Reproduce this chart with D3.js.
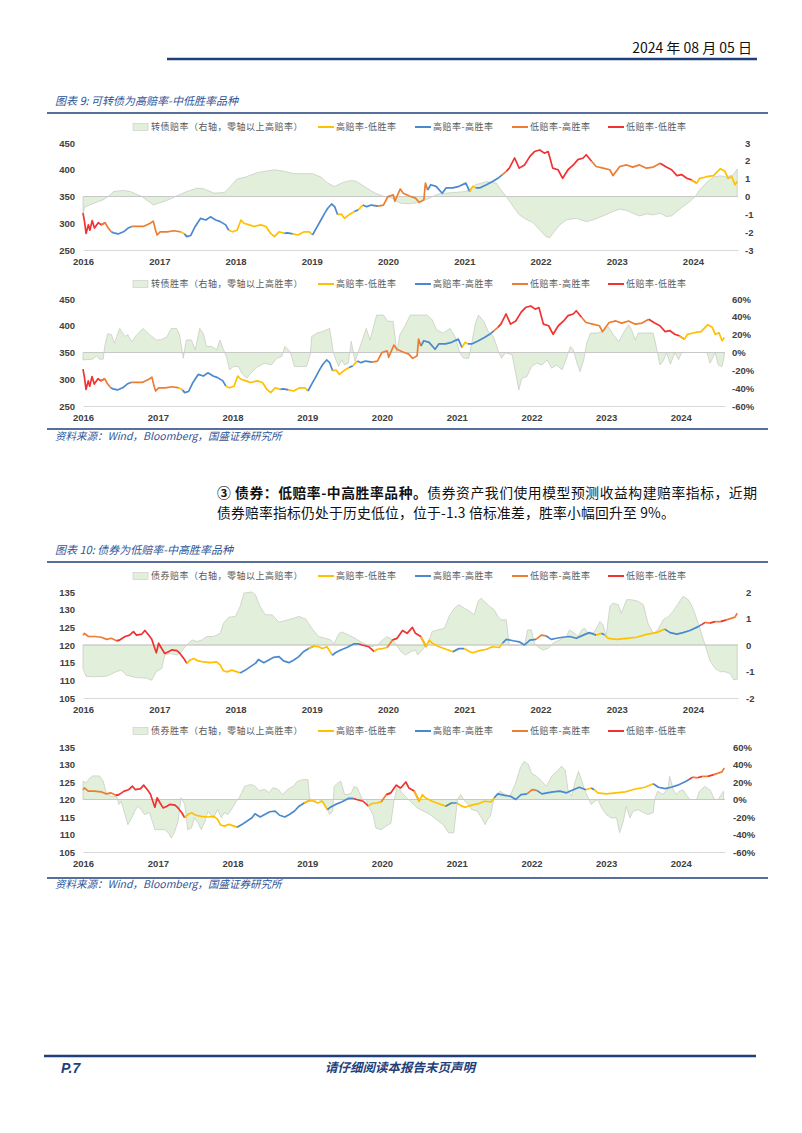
<!DOCTYPE html>
<meta charset="utf-8">
<style>
 body { margin: 0; background: #fff; }
 .tick text { font-family: "Liberation Sans", Arial, sans-serif; font-size: 9.5px; font-weight: bold; fill: #404040; }
 .cjk { font-family: "Noto Sans CJK SC", sans-serif; }
</style>
<body>
<script src="https://d3js.org/d3.v7.min.js"></script>
<script>

// ---- data (decimal year, value) ----
var yearTicks = [2016, 2017, 2018, 2019, 2020, 2021, 2022, 2023, 2024];
var xEnd = 2024.59;

var regimeNames = { Y: "高赔率-低胜率", B: "高赔率-高胜率", O: "低赔率-高胜率", R: "低赔率-低胜率" };
var regimeColors = { Y: "#FFC000", B: "#4A89CF", O: "#ED7D31", R: "#F03232" };
var regimeOrder = ["Y", "B", "O", "R"];

// 图表9 可转债
var cbIndex = [
  [2016.00,319],[2016.02,303],[2016.04,281],[2016.07,297],[2016.09,287],[2016.12,305],[2016.15,291],
  [2016.20,301],[2016.24,297],[2016.29,301],[2016.33,291],[2016.37,284],[2016.40,282],[2016.46,280],
  [2016.53,284],[2016.59,291],[2016.64,294],[2016.70,294],[2016.79,294],[2016.88,300],[2016.92,304],
  [2016.95,287],[2016.97,278],[2017.01,284],[2017.10,284],[2017.19,286],[2017.28,284],[2017.33,280],
  [2017.36,275],[2017.41,277],[2017.47,294],[2017.54,309],[2017.61,306],[2017.67,312],[2017.74,306],
  [2017.80,303],[2017.87,297],[2017.91,287],[2017.96,284],[2018.02,287],[2018.07,306],[2018.11,300],
  [2018.18,297],[2018.24,294],[2018.33,297],[2018.40,294],[2018.46,281],[2018.51,275],[2018.57,284],
  [2018.64,281],[2018.68,282],[2018.75,280],[2018.82,278],[2018.90,284],[2018.97,284],[2019.01,278],
  [2019.06,291],[2019.12,306],[2019.17,319],[2019.21,328],[2019.26,336],[2019.30,331],[2019.34,316],
  [2019.39,317],[2019.43,309],[2019.50,317],[2019.56,322],[2019.61,325],[2019.67,334],[2019.72,331],
  [2019.78,334],[2019.87,332],[2019.94,334],[2020.00,350],[2020.07,353],[2020.09,341],[2020.16,364],
  [2020.20,356],[2020.28,351],[2020.36,347],[2020.41,339],[2020.47,344],[2020.49,375],[2020.52,362],
  [2020.56,372],[2020.63,369],[2020.71,356],[2020.76,366],[2020.85,366],[2020.93,369],[2021.02,375],
  [2021.07,359],[2021.11,369],[2021.15,366],[2021.20,366],[2021.29,372],[2021.37,378],[2021.44,384],
  [2021.50,391],[2021.55,397],[2021.59,403],[2021.66,422],[2021.72,403],[2021.79,409],[2021.86,425],
  [2021.92,434],[2021.99,437],[2022.05,431],[2022.10,434],[2022.16,403],[2022.23,400],[2022.29,384],
  [2022.36,400],[2022.43,409],[2022.49,419],[2022.56,422],[2022.60,428],[2022.67,416],[2022.73,406],
  [2022.82,403],[2022.91,400],[2022.95,389],[2023.04,406],[2023.13,409],[2023.21,405],[2023.30,409],
  [2023.39,403],[2023.48,405],[2023.57,412],[2023.65,405],[2023.72,400],[2023.79,389],[2023.85,391],
  [2023.92,384],[2023.98,381],[2024.05,375],[2024.09,384],[2024.18,387],[2024.27,389],[2024.36,402],
  [2024.42,397],[2024.46,384],[2024.51,387],[2024.55,372],[2024.58,378]
];
var cbRegStart = [2016.00,2016.29,2016.38,2016.68,2017.31,2017.36,2017.95,2018.67,2018.80,2019.02,
  2019.36,2019.58,2019.64,2019.70,2019.93,2020.53,2021.09,2021.18,2021.52,2021.57,2022.70,2023.62,2024.05];
var cbRegime = ["R","O","B","O","Y","B","Y","B","Y","B","Y","B","Y","B","O","B","Y","B","O","R","O","R","Y"];

var cbOdds = [
  [2016.00,-1.0],[2016.02,-0.6],[2016.09,-0.47],[2016.20,-0.28],[2016.26,-0.19],[2016.33,0],[2016.40,0.28],
  [2016.53,0.34],[2016.62,0.28],[2016.77,0],[2016.92,-0.47],[2017.06,-0.28],[2017.17,-0.09],[2017.21,0],
  [2017.36,0.28],[2017.50,0.47],[2017.58,0.43],[2017.72,0.19],[2017.85,0.22],[2017.89,0.38],[2018.02,0.98],
  [2018.13,1.09],[2018.29,1.35],[2018.51,1.5],[2018.64,1.41],[2018.77,1.28],[2019.01,1.28],[2019.12,1.09],
  [2019.21,0.75],[2019.30,0.56],[2019.41,0.79],[2019.52,0.9],[2019.59,0.84],[2019.70,0.53],[2019.83,0.19],
  [2019.92,0.04],[2019.96,0],[2020.05,-0.09],[2020.16,-0.375],[2020.27,-0.41],[2020.41,-0.33],[2020.54,-0.1],
  [2020.58,0],[2020.67,0.15],[2020.85,0.22],[2021.02,0.28],[2021.15,0.66],[2021.29,0.84],[2021.42,0.75],
  [2021.48,0.375],[2021.55,0],[2021.64,-0.56],[2021.72,-1.03],[2021.81,-1.28],[2021.90,-1.46],[2021.99,-1.88],
  [2022.07,-2.25],[2022.12,-2.31],[2022.18,-1.97],[2022.25,-1.6],[2022.34,-1.31],[2022.47,-1.22],[2022.60,-1.41],
  [2022.69,-1.31],[2022.82,-1.09],[2022.95,-0.84],[2023.04,-0.71],[2023.13,-0.78],[2023.21,-0.94],[2023.30,-1.09],
  [2023.39,-0.98],[2023.48,-1.03],[2023.57,-0.94],[2023.65,-1.12],[2023.72,-1.09],[2023.79,-0.84],[2023.87,-0.56],
  [2023.96,-0.28],[2024.03,0],[2024.09,0.375],[2024.18,0.79],[2024.27,1.09],[2024.36,1.16],[2024.44,1.09],
  [2024.53,1.22],[2024.58,1.54]
];

var cbWin = [
  [2016.00,-0.083],[2016.13,-0.075],[2016.18,-0.038],[2016.22,-0.075],[2016.27,-0.075],[2016.29,0.07],[2016.33,0.21],
  [2016.38,0.20],[2016.42,0.105],[2016.49,0.27],[2016.56,0.18],[2016.60,0.20],[2016.65,0.12],[2016.71,0.19],
  [2016.80,0.27],[2016.89,0.20],[2016.98,0.14],[2017.05,0.145],[2017.12,0.175],[2017.18,0.27],[2017.25,0.27],
  [2017.29,0.20],[2017.34,-0.064],[2017.38,0.14],[2017.45,0.14],[2017.50,0.03],[2017.56,0.27],[2017.61,0.21],
  [2017.65,0.068],[2017.72,0.068],[2017.79,0.03],[2017.83,0.14],[2017.88,0.03],[2017.92,-0.05],[2017.96,-0.195],
  [2018.01,-0.158],[2018.08,-0.158],[2018.12,-0.23],[2018.19,-0.29],[2018.26,-0.216],[2018.34,-0.158],[2018.43,-0.12],
  [2018.52,-0.139],[2018.59,-0.064],[2018.66,-0.045],[2018.70,0.068],[2018.77,0.011],[2018.83,-0.158],[2018.90,-0.158],
  [2018.99,-0.158],[2019.04,-0.026],[2019.06,0.18],[2019.13,0.218],[2019.21,0.236],[2019.30,0.27],[2019.35,-0.004],
  [2019.42,-0.158],[2019.46,-0.083],[2019.50,-0.139],[2019.55,-0.12],[2019.59,0.124],[2019.64,-0.10],[2019.68,-0.004],
  [2019.73,0.124],[2019.79,0.27],[2019.84,0.14],[2019.93,0.42],[2020.02,0.42],[2020.08,0.35],[2020.15,0.35],
  [2020.20,0],[2020.24,0.20],[2020.29,0.27],[2020.38,0.42],[2020.60,0.42],[2020.67,0.37],[2020.73,0.255],
  [2020.82,0.218],[2020.91,0.27],[2020.98,0.17],[2021.04,0],[2021.09,-0.064],[2021.16,-0.064],[2021.20,0.105],
  [2021.25,0.33],[2021.29,0.42],[2021.36,0.35],[2021.42,0.236],[2021.49,0.18],[2021.56,0.007],[2021.60,-0.064],
  [2021.65,-0.004],[2021.74,-0.023],[2021.78,-0.195],[2021.83,-0.42],[2021.87,-0.29],[2021.94,-0.27],[2022.00,-0.158],
  [2022.07,-0.12],[2022.14,-0.139],[2022.21,-0.083],[2022.27,-0.176],[2022.34,-0.139],[2022.41,-0.195],[2022.47,-0.064],
  [2022.52,0.068],[2022.56,0.03],[2022.61,-0.12],[2022.65,-0.214],[2022.70,-0.083],[2022.74,0.105],[2022.79,0.218],
  [2022.88,0.218],[2022.96,0.236],[2023.03,0.29],[2023.10,0.195],[2023.17,0.124],[2023.23,0.218],[2023.30,0.31],
  [2023.34,0.255],[2023.39,0.14],[2023.43,0.218],[2023.63,0.218],[2023.68,0.03],[2023.72,-0.14],[2023.76,-0.10],
  [2023.81,-0.004],[2023.86,-0.13],[2023.92,-0.004],[2023.97,-0.08],[2024.01,0],[2024.35,0],[2024.39,-0.12],
  [2024.46,-0.004],[2024.50,-0.14],[2024.55,-0.158],[2024.58,-0.045]
];

// 图表10 债券
var bondIndex = [
  [2016.00,122.8],[2016.02,123.3],[2016.07,122.4],[2016.15,122.4],[2016.24,122.2],[2016.31,121.6],[2016.37,121.9],
  [2016.44,121.2],[2016.48,121.4],[2016.55,122.4],[2016.61,122.8],[2016.66,123.8],[2016.70,122.8],[2016.77,123.1],
  [2016.81,124.1],[2016.86,122.8],[2016.90,121.6],[2016.94,119.0],[2016.96,117.8],[2016.99,120.5],[2017.03,119.0],
  [2017.07,117.6],[2017.12,118.1],[2017.16,118.6],[2017.23,118.4],[2017.27,117.6],[2017.32,116.2],[2017.36,114.8],
  [2017.40,115.7],[2017.45,116.2],[2017.51,115.5],[2017.58,115.2],[2017.67,115.0],[2017.75,115.2],[2017.80,114.3],
  [2017.84,112.7],[2017.89,112.4],[2017.95,112.9],[2018.02,112.4],[2018.06,112.1],[2018.13,112.9],[2018.19,113.8],
  [2018.26,114.8],[2018.30,115.9],[2018.37,115.0],[2018.43,115.7],[2018.50,116.5],[2018.57,116.7],[2018.63,115.5],
  [2018.70,115.0],[2018.76,115.7],[2018.83,116.7],[2018.89,118.1],[2018.96,119.0],[2019.03,119.7],[2019.09,119.5],
  [2019.14,119.0],[2019.20,119.5],[2019.27,117.1],[2019.31,117.8],[2019.38,118.6],[2019.46,119.3],[2019.55,120.3],
  [2019.62,120.3],[2019.66,120.0],[2019.75,119.5],[2019.82,118.1],[2019.86,118.8],[2019.93,119.0],[2019.99,119.3],
  [2020.06,121.4],[2020.12,121.9],[2020.19,124.1],[2020.25,123.3],[2020.32,125.0],[2020.36,123.3],[2020.43,122.4],
  [2020.50,119.5],[2020.54,121.4],[2020.58,120.5],[2020.67,119.5],[2020.76,118.8],[2020.85,118.1],[2020.93,119.0],
  [2021.00,119.0],[2021.07,118.1],[2021.11,117.8],[2021.20,118.4],[2021.29,118.8],[2021.37,119.5],[2021.46,119.3],
  [2021.50,120.5],[2021.55,121.6],[2021.64,121.2],[2021.72,120.9],[2021.79,120.0],[2021.86,121.4],[2021.94,121.6],
  [2022.01,122.8],[2022.07,122.6],[2022.14,121.6],[2022.21,121.9],[2022.29,122.2],[2022.38,122.4],[2022.47,121.9],
  [2022.56,122.8],[2022.64,123.5],[2022.73,122.8],[2022.80,123.3],[2022.84,122.8],[2022.89,121.9],[2023.00,121.6],
  [2023.13,121.9],[2023.26,122.2],[2023.39,123.0],[2023.52,123.5],[2023.63,124.5],[2023.70,123.5],[2023.79,123.1],
  [2023.87,123.5],[2023.96,124.1],[2024.07,125.2],[2024.11,125.7],[2024.16,126.4],[2024.22,126.2],[2024.29,126.6],
  [2024.36,126.6],[2024.44,127.1],[2024.51,127.6],[2024.55,127.9],[2024.58,129.0]
];
var bondRegStart = [2016.00,2016.48,2017.38,2018.08,2019.03,2019.29,2019.64,2019.84,2020.05,2020.12,2020.50,
  2020.93,2021.05,2021.52,2021.98,2022.12,2022.78,2022.83,2022.87,2023.66,2024.12,2024.19,2024.26,2024.32,2024.42,2024.47];
var bondRegime = ["O","R","Y","B","Y","B","R","Y","O","R","Y","B","Y","B","O","B","Y","B","Y","B","R","O","R","O","R","O"];

var bondOdds = [
  [2016.00,-0.89],[2016.04,-1.18],[2016.13,-1.2],[2016.31,-1.18],[2016.44,-1.0],[2016.50,-0.95],[2016.57,-1.14],
  [2016.70,-1.23],[2016.83,-1.25],[2016.90,-1.33],[2016.96,-1.0],[2017.03,-0.89],[2017.07,-0.38],[2017.14,-0.32],
  [2017.23,-0.38],[2017.29,-0.25],[2017.34,-0.06],[2017.36,0],[2017.43,0.19],[2017.49,0.13],[2017.56,0.19],
  [2017.62,0.32],[2017.71,0.32],[2017.80,0.44],[2017.84,0.82],[2017.91,1.05],[2018.00,1.08],[2018.06,1.46],
  [2018.11,1.96],[2018.21,2.0],[2018.26,1.9],[2018.32,1.46],[2018.39,1.14],[2018.48,1.14],[2018.57,0.86],
  [2018.65,0.92],[2018.74,0.99],[2018.83,1.08],[2018.92,0.98],[2019.00,0.63],[2019.09,0.32],[2019.18,0.25],
  [2019.25,0.19],[2019.29,0.04],[2019.36,0.44],[2019.40,0.49],[2019.49,0.37],[2019.57,0.25],[2019.66,0.09],
  [2019.73,0],[2019.79,-0.06],[2019.86,0],[2019.93,0.19],[2019.99,0.32],[2020.06,0.19],[2020.10,0.04],
  [2020.17,-0.25],[2020.23,-0.38],[2020.30,-0.25],[2020.36,-0.19],[2020.39,-0.38],[2020.45,-0.19],[2020.50,0],
  [2020.54,0.19],[2020.58,0.51],[2020.65,0.57],[2020.74,0.63],[2020.80,1.08],[2020.87,1.39],[2020.93,1.52],
  [2021.00,1.39],[2021.07,1.27],[2021.13,1.14],[2021.18,1.65],[2021.22,1.77],[2021.26,1.65],[2021.33,1.46],
  [2021.39,1.33],[2021.44,1.08],[2021.48,0.95],[2021.55,0.95],[2021.59,0],[2021.79,0],[2021.83,0.57],
  [2021.88,0.57],[2021.92,0.06],[2021.96,-0.06],[2022.03,-0.19],[2022.10,-0.13],[2022.16,0.06],[2022.25,0.19],
  [2022.34,0.32],[2022.38,0.57],[2022.45,0.44],[2022.49,0.32],[2022.54,0.57],[2022.58,0.63],[2022.64,0.38],
  [2022.71,0.51],[2022.78,0.89],[2022.82,0.76],[2022.86,0.32],[2022.91,1.46],[2022.95,1.58],[2023.02,1.52],
  [2023.06,1.2],[2023.13,1.71],[2023.19,1.71],[2023.28,1.65],[2023.35,1.52],[2023.41,0.82],[2023.48,0.44],
  [2023.54,0.57],[2023.61,0.95],[2023.68,1.08],[2023.74,1.27],[2023.81,1.58],[2023.87,1.84],[2023.94,1.71],
  [2024.00,1.39],[2024.07,0.82],[2024.11,0.44],[2024.16,0],[2024.22,-0.57],[2024.29,-0.89],[2024.36,-1.01],
  [2024.42,-1.01],[2024.49,-1.08],[2024.53,-1.3],[2024.58,-1.3]
];

var bondWin = [
  [2016.00,0.21],[2016.04,0.19],[2016.09,0.246],[2016.13,0.27],[2016.22,0.27],[2016.27,0.21],[2016.31,0.074],
  [2016.38,0.036],[2016.45,0.036],[2016.48,-0.057],[2016.51,-0.02],[2016.56,-0.17],[2016.60,-0.288],[2016.65,-0.21],
  [2016.69,-0.135],[2016.73,-0.078],[2016.78,-0.116],[2016.82,-0.17],[2016.89,-0.15],[2016.96,-0.345],[2017.09,-0.345],
  [2017.14,-0.38],[2017.18,-0.44],[2017.22,-0.38],[2017.27,-0.25],[2017.31,0.02],[2017.36,-0.057],[2017.40,-0.345],
  [2017.45,-0.326],[2017.49,-0.21],[2017.54,-0.269],[2017.58,-0.345],[2017.63,-0.25],[2017.67,-0.135],[2017.74,-0.21],
  [2017.80,-0.116],[2017.85,-0.21],[2017.89,-0.15],[2017.94,-0.17],[2018.00,-0.095],[2018.05,-0.02],[2018.09,0.02],
  [2018.16,0.15],[2018.23,0.17],[2018.29,0.16],[2018.36,0.10],[2018.43,0.116],[2018.49,0.078],[2018.54,0.135],
  [2018.61,0.116],[2018.67,0.057],[2018.74,0.116],[2018.81,0.15],[2018.87,0.21],[2018.94,0.227],[2019.01,0.227],
  [2019.03,0.02],[2019.07,-0.02],[2019.14,0],[2019.21,-0.02],[2019.25,-0.078],[2019.30,-0.17],[2019.34,-0.135],
  [2019.36,0.15],[2019.41,0.19],[2019.45,0.21],[2019.50,0.057],[2019.54,0.057],[2019.59,0.076],[2019.63,0.15],
  [2019.67,0.135],[2019.74,0],[2019.79,0],[2019.83,-0.095],[2019.88,-0.17],[2019.92,-0.326],[2019.99,-0.345],
  [2020.05,-0.307],[2020.12,-0.27],[2020.16,-0.02],[2020.21,0.17],[2020.25,0.095],[2020.33,0.02],[2020.40,-0.038],
  [2020.47,-0.095],[2020.55,-0.13],[2020.64,-0.17],[2020.73,-0.23],[2020.82,-0.288],[2020.89,-0.38],[2020.96,-0.38],
  [2021.01,0],[2021.05,0.057],[2021.11,-0.02],[2021.16,-0.057],[2021.20,-0.116],[2021.27,-0.13],[2021.33,-0.207],
  [2021.38,-0.288],[2021.41,-0.23],[2021.45,-0.19],[2021.49,-0.02],[2021.53,0.057],[2021.58,0.095],[2021.65,0.057],
  [2021.71,0.038],[2021.78,0.17],[2021.85,0.36],[2021.90,0.436],[2021.96,0.40],[2022.00,0.30],[2022.07,0.265],
  [2022.14,0.208],[2022.20,0.15],[2022.27,0.265],[2022.34,0.32],[2022.40,0.38],[2022.45,0.34],[2022.49,0.11],
  [2022.54,0.038],[2022.58,0.19],[2022.63,0.32],[2022.67,0.227],[2022.71,0.11],[2022.76,0.02],[2022.80,-0.057],
  [2022.85,-0.02],[2022.89,0],[2022.94,-0.095],[2023.00,-0.17],[2023.07,-0.21],[2023.14,-0.21],[2023.18,-0.38],
  [2023.23,-0.25],[2023.27,-0.078],[2023.32,-0.21],[2023.36,-0.135],[2023.43,-0.116],[2023.50,-0.15],[2023.56,-0.17],
  [2023.63,-0.15],[2023.65,0],[2023.69,0.095],[2023.76,0.057],[2023.83,0.13],[2023.85,0.265],[2023.90,0.11],
  [2023.94,0.057],[2023.98,0.095],[2024.03,0.11],[2024.07,0.057],[2024.12,0],[2024.21,0],[2024.25,0.095],
  [2024.32,0.15],[2024.39,0.11],[2024.45,0],[2024.50,0],[2024.54,0.057],[2024.57,0.095]
];

// ---- helpers ----
function yd(t) {
  var y = Math.floor(t), a = new Date(y, 0, 1), b = new Date(y + 1, 0, 1);
  return new Date(+a + (t - y) * (b - a));
}

function segments(data, starts, codes) {
  return starts.map(function(s, i) {
    var e = i + 1 < starts.length ? starts[i + 1] : Infinity;
    var pts = data.filter(function(d) { return d[0] >= s && d[0] <= e; });
    var prev = data.filter(function(d) { return d[0] < s; }).pop();
    if (prev) pts.unshift(prev);
    return { code: codes[i], pts: pts };
  });
}

var svg = d3.select("body").append("svg")
    .attr("width", 802)
    .attr("height", 1133);
svg.append("rect").attr("width", 802).attr("height", 1133).attr("fill", "#fff");

var blue = "#1F3F7A";

// header
svg.append("text")
    .attr("x", 752).attr("y", 53)
    .attr("text-anchor", "end")
    .attr("class", "cjk")
    .style("font-size", "14px")
    .attr("fill", "#111")
    .text("2024 年 08 月 05 日");
svg.append("line").attr("x1", 167).attr("x2", 757).attr("y1", 59).attr("y2", 59)
    .attr("stroke", blue).attr("stroke-width", 2.5);

function title(y, lineY, txt) {
  svg.append("text").attr("x", 55).attr("y", y + 4)
      .attr("class", "cjk")
      .style("font-size", "11px").style("font-style", "italic")
      .attr("fill", "#2F5597")
      .text(txt);
  svg.append("line").attr("x1", 47).attr("x2", 768).attr("y1", lineY).attr("y2", lineY)
      .attr("stroke", blue).attr("stroke-width", 1.5);
}

function source(lineY, y) {
  svg.append("line").attr("x1", 47).attr("x2", 768).attr("y1", lineY).attr("y2", lineY)
      .attr("stroke", blue).attr("stroke-width", 1.5);
  svg.append("text").attr("x", 55).attr("y", y + 4)
      .attr("class", "cjk")
      .style("font-size", "10.5px").style("font-style", "italic")
      .attr("fill", "#2F5597")
      .text("资料来源：Wind，Bloomberg，国盛证券研究所");
}

function drawPanel(cfg) {
  var g = svg.append("g");
  var x = d3.scaleTime().domain([yd(2016), yd(xEnd)]).range([cfg.left, cfg.right]);
  var yL = d3.scaleLinear().domain(cfg.leftDomain).range([cfg.bottom, cfg.top]);
  var yR = d3.scaleLinear().domain(cfg.rightDomain).range([cfg.bottom, cfg.top]);

  // legend
  var lg = g.append("g").attr("class", "cjk").style("font-size", "9px").attr("fill", "#595959");
  lg.append("rect").attr("x", 133).attr("y", cfg.legendY - 3.5).attr("width", 15).attr("height", 7)
      .attr("fill", "#E2EFDA").attr("stroke", "#C9C9C9").attr("stroke-width", 0.6);
  lg.append("text").attr("x", 151).attr("y", cfg.legendY + 3.2).style("letter-spacing", "0.5px").text(cfg.areaName);
  var lx = [318, 415, 512, 608];
  regimeOrder.forEach(function(k, i) {
    lg.append("line").attr("x1", lx[i]).attr("x2", lx[i] + 16).attr("y1", cfg.legendY).attr("y2", cfg.legendY)
        .attr("stroke", regimeColors[k]).attr("stroke-width", 2);
    lg.append("text").attr("x", lx[i] + 18).attr("y", cfg.legendY + 3.2).style("letter-spacing", "0.5px")
        .text(regimeNames[k]);
  });

  // area (right axis)
  g.append("path").datum(cfg.area)
      .attr("fill", "#E2EFDA")
      .attr("stroke", "#C4C8C0")
      .attr("stroke-width", 0.7)
      .attr("d", d3.area()
        .x(function(d) { return x(yd(d[0])); })
        .y0(yR(0))
        .y1(function(d) { return yR(d[1]); }));

  // zero line
  g.append("line").attr("x1", cfg.left).attr("x2", cfg.right).attr("y1", yR(0)).attr("y2", yR(0))
      .attr("stroke", "#C8C8C8").attr("stroke-width", 1);

  // bottom axis
  var xa = g.append("g").attr("transform", "translate(0," + cfg.bottom + ")")
      .call(d3.axisBottom(x)
        .tickValues(yearTicks.map(function(t) { return yd(t); }))
        .tickFormat(d3.timeFormat("%Y"))
        .tickSize(0).tickPadding(8));
  xa.select(".domain").attr("stroke", "#D9D9D9");
  xa.selectAll(".tick text").attr("font-family", null).attr("font-size", null);

  // left axis
  var la = g.append("g").attr("transform", "translate(" + cfg.left + ",0)")
      .call(d3.axisLeft(yL).tickValues(cfg.leftTicks).tickSize(0).tickPadding(8));
  la.select(".domain").remove();
  la.selectAll(".tick text").attr("font-family", null).attr("font-size", null);

  // right axis
  var ra = g.append("g").attr("transform", "translate(" + cfg.right + ",0)")
      .call(d3.axisRight(yR).tickValues(cfg.rightTicks).tickSize(0).tickPadding(cfg.rightPad)
        .tickFormat(cfg.rightFormat));
  ra.select(".domain").remove();
  ra.selectAll(".tick text").attr("font-family", null).attr("font-size", null);

  // regime coloured line (left axis)
  var line = d3.line()
      .x(function(d) { return x(yd(d[0])); })
      .y(function(d) { return yL(d[1]); });
  g.selectAll(".seg").data(segments(cfg.line, cfg.regStart, cfg.regime)).enter()
    .append("path")
      .attr("fill", "none")
      .attr("stroke", function(d) { return regimeColors[d.code]; })
      .attr("stroke-width", 1.7)
      .attr("stroke-linejoin", "round")
      .attr("d", function(d) { return line(d.pts); });
}

var pctFmt = function(d) { return Math.round(d * 100) + "%"; };
var numFmt = function(d) { return String(d); };

// 图表 9
title(101, 113, "图表 9:  可转债为高赔率-中低胜率品种");
drawPanel({
  legendY: 127, top: 143, bottom: 250, left: 83, right: 738,
  leftDomain: [250, 450], leftTicks: [250, 300, 350, 400, 450],
  rightDomain: [-3, 3], rightTicks: [-3, -2, -1, 0, 1, 2, 3], rightPad: 7, rightFormat: numFmt,
  area: cbOdds, areaName: "转债赔率（右轴，零轴以上高赔率）",
  line: cbIndex, regStart: cbRegStart, regime: cbRegime
});
drawPanel({
  legendY: 284, top: 299, bottom: 406, left: 83, right: 725,
  leftDomain: [250, 450], leftTicks: [250, 300, 350, 400, 450],
  rightDomain: [-0.6, 0.6], rightTicks: [-0.6, -0.4, -0.2, 0, 0.2, 0.4, 0.6], rightPad: 7, rightFormat: pctFmt,
  area: cbWin, areaName: "转债胜率（右轴，零轴以上高胜率）",
  line: cbIndex, regStart: cbRegStart, regime: cbRegime
});
source(429, 436);

// paragraph
var para = svg.append("g").attr("class", "cjk").style("font-size", "13.8px").attr("fill", "#111");
var p1 = para.append("text").attr("x", 217).attr("y", 498).attr("textLength", 540).attr("lengthAdjust", "spacing");
p1.append("tspan").style("font-weight", "bold").text("③ 债券：低赔率-中高胜率品种。");
p1.append("tspan").text("债券资产我们使用模型预测收益构建赔率指标，近期");
para.append("text").attr("x", 217).attr("y", 518).style("letter-spacing", "0.2px")
    .text("债券赔率指标仍处于历史低位，位于-1.3 倍标准差，胜率小幅回升至 9%。");

// 图表 10
title(550, 562, "图表 10:  债券为低赔率-中高胜率品种");
drawPanel({
  legendY: 576, top: 592, bottom: 698, left: 83, right: 738,
  leftDomain: [105, 135], leftTicks: [105, 110, 115, 120, 125, 130, 135],
  rightDomain: [-2, 2], rightTicks: [-2, -1, 0, 1, 2], rightPad: 8, rightFormat: numFmt,
  area: bondOdds, areaName: "债券赔率（右轴，零轴以上高赔率）",
  line: bondIndex, regStart: bondRegStart, regime: bondRegime
});
drawPanel({
  legendY: 731, top: 747, bottom: 852, left: 83, right: 725,
  leftDomain: [105, 135], leftTicks: [105, 110, 115, 120, 125, 130, 135],
  rightDomain: [-0.6, 0.6], rightTicks: [-0.6, -0.4, -0.2, 0, 0.2, 0.4, 0.6], rightPad: 8, rightFormat: pctFmt,
  area: bondWin, areaName: "债券胜率（右轴，零轴以上高胜率）",
  line: bondIndex, regStart: bondRegStart, regime: bondRegime
});
source(878, 884);

// footer
svg.append("line").attr("x1", 44).attr("x2", 756).attr("y1", 1056).attr("y2", 1056)
    .attr("stroke", blue).attr("stroke-width", 2.5);
svg.append("text").attr("x", 61).attr("y", 1073)
    .style("font-family", "Liberation Sans, sans-serif").style("font-size", "14px")
    .style("font-weight", "bold").style("font-style", "italic")
    .attr("fill", blue).text("P.7");
svg.append("text").attr("x", 400).attr("y", 1072).attr("text-anchor", "middle")
    .attr("class", "cjk").style("font-size", "12.5px").style("font-style", "italic").style("font-weight", "bold")
    .attr("fill", blue).text("请仔细阅读本报告末页声明");

</script>
</body>
